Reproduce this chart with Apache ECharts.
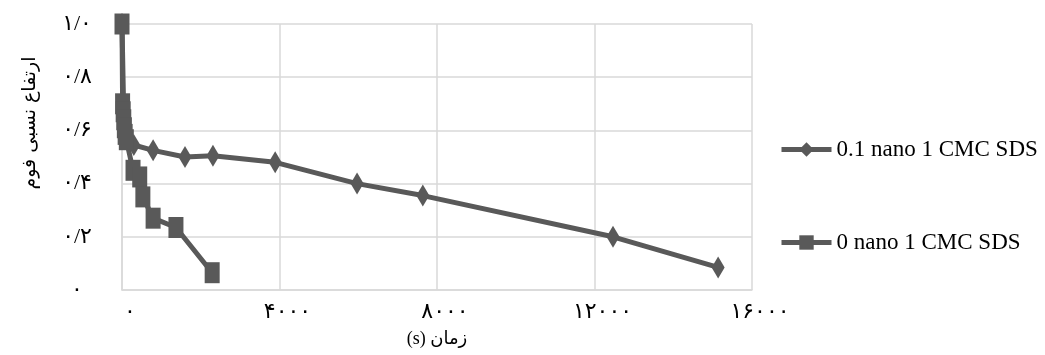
<!DOCTYPE html>
<html>
<head>
<meta charset="utf-8">
<script src="https://cdn.jsdelivr.net/npm/echarts@6/dist/echarts.min.js"></script>
<style>html,body{margin:0;padding:0;background:#fff}#c{width:1045px;height:355px}</style>
</head>
<body>
<div id="c"></div>
<script>
// Data
const seriesNames = ['0.1 nano 1 CMC SDS', '0 nano 1 CMC SDS'];
const nanoTimes = [0, 50, 150, 300, 790, 1600, 2310, 3890, 5970, 7640, 12470, 15140];
const nanoHeights = [1.0, 0.62, 0.57, 0.545, 0.525, 0.50, 0.505, 0.48, 0.40, 0.355, 0.20, 0.085];
const baseTimes = [0, 15, 30, 45, 60, 80, 110, 280, 450, 530, 790, 1370, 2290];
const baseHeights = [1.0, 0.70, 0.67, 0.64, 0.61, 0.585, 0.565, 0.45, 0.425, 0.35, 0.27, 0.235, 0.065];
const xTickLabels = ['۰', '۴۰۰۰', '۸۰۰۰', '۱۲۰۰۰', '۱۶۰۰۰'];
const yTickLabels = ['۰', '۰/۲', '۰/۴', '۰/۶', '۰/۸', '۱/۰'];
const xTitle = '(s) زمان';
const yTitle = 'ارتفاع نسبی فوم';

const zip = (a, b) => a.map((v, i) => [v, b[i]]);
const col = '#595959';
const fontFam = "'Liberation Serif', 'DejaVu Sans', serif";

const chart = echarts.init(document.getElementById('c'));
chart.setOption({
  animation: false,
  backgroundColor: '#fff',
  grid: { left: 122, right: 293, top: 24, bottom: 65 },
  xAxis: {
    type: 'value', min: 0, max: 16000, interval: 4000,
    axisLine: { show: true, lineStyle: { color: '#d9d9d9', width: 1.5 } },
    axisTick: { show: false },
    splitLine: { show: true, lineStyle: { color: '#d9d9d9', width: 1.5 } },
    axisLabel: {
      margin: 11, color: '#000', fontSize: 22, fontFamily: fontFam,
      padding: [0, 0, 0, 16],
      formatter: (v, i) => xTickLabels[Math.round(v / 4000)]
    },
    name: xTitle, nameLocation: 'middle', nameGap: 40,
    nameTextStyle: { color: '#000', fontSize: 18, fontFamily: fontFam }
  },
  yAxis: {
    type: 'value', min: 0, max: 1, interval: 0.2,
    axisLine: { show: true, lineStyle: { color: '#d9d9d9', width: 1.5 } },
    axisTick: { show: false },
    splitLine: { show: true, lineStyle: { color: '#d9d9d9', width: 1.5 } },
    axisLabel: {
      margin: 45, align: 'center', color: '#000', fontSize: 22, fontFamily: fontFam,
      formatter: (v) => yTickLabels[Math.round(v / 0.2)]
    }
  },
  graphic: [{
    type: 'text', x: 30, y: 123, rotation: Math.PI / 2,
    style: { text: yTitle, fill: '#000', font: "19px 'DejaVu Sans'", align: 'center', verticalAlign: 'middle' }
  }],
  legend: {
    orient: 'vertical', left: 779, top: 138, itemGap: 70, padding: 0,
    itemWidth: 50, itemHeight: 18,
    data: seriesNames,
    lineStyle: { width: 5 },
    textStyle: { color: '#000', fontSize: 23, fontFamily: fontFam },
  },
  series: [
    {
      name: seriesNames[0], type: 'line', data: zip(nanoTimes, nanoHeights),
      symbol: 'diamond', symbolSize: [13, 22],
      lineStyle: { color: col, width: 5 }, itemStyle: { color: col }
    },
    {
      name: seriesNames[1], type: 'line', data: zip(baseTimes, baseHeights),
      symbol: 'rect', symbolSize: [15, 21],
      lineStyle: { color: col, width: 5 }, itemStyle: { color: col }
    }
  ]
});
</script>
</body>
</html>
